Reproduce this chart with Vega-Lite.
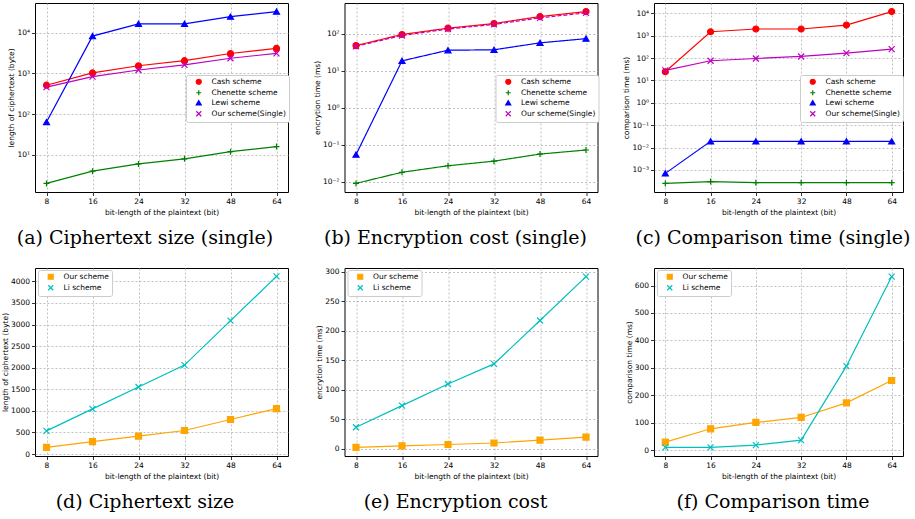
{
  "$schema": "https://vega.github.io/schema/vega-lite/v6.json",
  "background": "white",
  "padding": {"left": 0, "top": 2, "right": 0, "bottom": 0},
  "datasets": {
    "a": [
      {"bits": 8, "scheme": "Cash scheme", "v": 512}, {"bits": 16, "scheme": "Cash scheme", "v": 1024}, {"bits": 24, "scheme": "Cash scheme", "v": 1536}, {"bits": 32, "scheme": "Cash scheme", "v": 2048}, {"bits": 48, "scheme": "Cash scheme", "v": 3072}, {"bits": 64, "scheme": "Cash scheme", "v": 4096},
      {"bits": 8, "scheme": "Chenette scheme", "v": 2}, {"bits": 16, "scheme": "Chenette scheme", "v": 4}, {"bits": 24, "scheme": "Chenette scheme", "v": 6}, {"bits": 32, "scheme": "Chenette scheme", "v": 8}, {"bits": 48, "scheme": "Chenette scheme", "v": 12}, {"bits": 64, "scheme": "Chenette scheme", "v": 16},
      {"bits": 8, "scheme": "Lewi scheme", "v": 64}, {"bits": 16, "scheme": "Lewi scheme", "v": 8192}, {"bits": 24, "scheme": "Lewi scheme", "v": 16384}, {"bits": 32, "scheme": "Lewi scheme", "v": 16384}, {"bits": 48, "scheme": "Lewi scheme", "v": 24576}, {"bits": 64, "scheme": "Lewi scheme", "v": 32768},
      {"bits": 8, "scheme": "Our scheme(Single)", "v": 460}, {"bits": 16, "scheme": "Our scheme(Single)", "v": 830}, {"bits": 24, "scheme": "Our scheme(Single)", "v": 1210}, {"bits": 32, "scheme": "Our scheme(Single)", "v": 1610}, {"bits": 48, "scheme": "Our scheme(Single)", "v": 2350}, {"bits": 64, "scheme": "Our scheme(Single)", "v": 3100}
    ],
    "b": [
      {"bits": 8, "scheme": "Cash scheme", "v": 48}, {"bits": 16, "scheme": "Cash scheme", "v": 96}, {"bits": 24, "scheme": "Cash scheme", "v": 142}, {"bits": 32, "scheme": "Cash scheme", "v": 190}, {"bits": 48, "scheme": "Cash scheme", "v": 293}, {"bits": 64, "scheme": "Cash scheme", "v": 400},
      {"bits": 8, "scheme": "Chenette scheme", "v": 0.009}, {"bits": 16, "scheme": "Chenette scheme", "v": 0.018}, {"bits": 24, "scheme": "Chenette scheme", "v": 0.027}, {"bits": 32, "scheme": "Chenette scheme", "v": 0.036}, {"bits": 48, "scheme": "Chenette scheme", "v": 0.056}, {"bits": 64, "scheme": "Chenette scheme", "v": 0.072},
      {"bits": 8, "scheme": "Lewi scheme", "v": 0.054}, {"bits": 16, "scheme": "Lewi scheme", "v": 18.6}, {"bits": 24, "scheme": "Lewi scheme", "v": 36}, {"bits": 32, "scheme": "Lewi scheme", "v": 37}, {"bits": 48, "scheme": "Lewi scheme", "v": 57}, {"bits": 64, "scheme": "Lewi scheme", "v": 74},
      {"bits": 8, "scheme": "Our scheme(Single)", "v": 46}, {"bits": 16, "scheme": "Our scheme(Single)", "v": 90}, {"bits": 24, "scheme": "Our scheme(Single)", "v": 135}, {"bits": 32, "scheme": "Our scheme(Single)", "v": 180}, {"bits": 48, "scheme": "Our scheme(Single)", "v": 270}, {"bits": 64, "scheme": "Our scheme(Single)", "v": 370}
    ],
    "c": [
      {"bits": 8, "scheme": "Cash scheme", "v": 24.5}, {"bits": 16, "scheme": "Cash scheme", "v": 1500}, {"bits": 24, "scheme": "Cash scheme", "v": 2000}, {"bits": 32, "scheme": "Cash scheme", "v": 2000}, {"bits": 48, "scheme": "Cash scheme", "v": 3000}, {"bits": 64, "scheme": "Cash scheme", "v": 12000},
      {"bits": 8, "scheme": "Chenette scheme", "v": 0.00025}, {"bits": 16, "scheme": "Chenette scheme", "v": 0.0003}, {"bits": 24, "scheme": "Chenette scheme", "v": 0.00027}, {"bits": 32, "scheme": "Chenette scheme", "v": 0.00027}, {"bits": 48, "scheme": "Chenette scheme", "v": 0.00027}, {"bits": 64, "scheme": "Chenette scheme", "v": 0.00027},
      {"bits": 8, "scheme": "Lewi scheme", "v": 0.0007}, {"bits": 16, "scheme": "Lewi scheme", "v": 0.019}, {"bits": 24, "scheme": "Lewi scheme", "v": 0.019}, {"bits": 32, "scheme": "Lewi scheme", "v": 0.019}, {"bits": 48, "scheme": "Lewi scheme", "v": 0.019}, {"bits": 64, "scheme": "Lewi scheme", "v": 0.019},
      {"bits": 8, "scheme": "Our scheme(Single)", "v": 28}, {"bits": 16, "scheme": "Our scheme(Single)", "v": 76}, {"bits": 24, "scheme": "Our scheme(Single)", "v": 96}, {"bits": 32, "scheme": "Our scheme(Single)", "v": 118}, {"bits": 48, "scheme": "Our scheme(Single)", "v": 166}, {"bits": 64, "scheme": "Our scheme(Single)", "v": 250}
    ],
    "d": [
      {"bits": 8, "scheme": "Our scheme", "v": 155}, {"bits": 16, "scheme": "Our scheme", "v": 288}, {"bits": 24, "scheme": "Our scheme", "v": 415}, {"bits": 32, "scheme": "Our scheme", "v": 545}, {"bits": 48, "scheme": "Our scheme", "v": 800}, {"bits": 64, "scheme": "Our scheme", "v": 1052},
      {"bits": 8, "scheme": "Li scheme", "v": 536}, {"bits": 16, "scheme": "Li scheme", "v": 1045}, {"bits": 24, "scheme": "Li scheme", "v": 1553}, {"bits": 32, "scheme": "Li scheme", "v": 2060}, {"bits": 48, "scheme": "Li scheme", "v": 3090}, {"bits": 64, "scheme": "Li scheme", "v": 4115}
    ],
    "e": [
      {"bits": 8, "scheme": "Our scheme", "v": 2.5}, {"bits": 16, "scheme": "Our scheme", "v": 5}, {"bits": 24, "scheme": "Our scheme", "v": 7.5}, {"bits": 32, "scheme": "Our scheme", "v": 10}, {"bits": 48, "scheme": "Our scheme", "v": 15}, {"bits": 64, "scheme": "Our scheme", "v": 20},
      {"bits": 8, "scheme": "Li scheme", "v": 36.7}, {"bits": 16, "scheme": "Li scheme", "v": 73.4}, {"bits": 24, "scheme": "Li scheme", "v": 110}, {"bits": 32, "scheme": "Li scheme", "v": 144}, {"bits": 48, "scheme": "Li scheme", "v": 217.5}, {"bits": 64, "scheme": "Li scheme", "v": 292}
    ],
    "f": [
      {"bits": 8, "scheme": "Our scheme", "v": 29}, {"bits": 16, "scheme": "Our scheme", "v": 77.7}, {"bits": 24, "scheme": "Our scheme", "v": 100.8}, {"bits": 32, "scheme": "Our scheme", "v": 119}, {"bits": 48, "scheme": "Our scheme", "v": 172.4}, {"bits": 64, "scheme": "Our scheme", "v": 253.8},
      {"bits": 8, "scheme": "Li scheme", "v": 9.7}, {"bits": 16, "scheme": "Li scheme", "v": 9.7}, {"bits": 24, "scheme": "Li scheme", "v": 18.2}, {"bits": 32, "scheme": "Li scheme", "v": 36.4}, {"bits": 48, "scheme": "Li scheme", "v": 306}, {"bits": 64, "scheme": "Li scheme", "v": 632.7}
    ]
  },
  "columns": 3,
  "spacing": {"row": 76, "column": 56.5},
  "bounds": "flush",
  "resolve": {
    "scale": {"x": "independent", "y": "independent", "color": "independent", "shape": "independent", "fill": "independent"},
    "legend": {"color": "independent", "shape": "independent", "fill": "independent"}
  },
  "concat": [
    {
      "width": 253, "height": 189,
      "title": {"text": "(a) Ciphertext size (single)", "dx": -16.5},
      "data": {"name": "a"},
      "encoding": {
        "x": {"field": "bits", "type": "ordinal", "scale": {"type": "point", "padding": 0.25}, "axis": {"title": "bit-length of the plaintext (bit)"}},
        "y": {"field": "v", "type": "quantitative", "scale": {"type": "log", "domain": [1.231, 53200]}, "axis": {"title": "length of ciphertext (byte)", "values": [10, 100, 1000, 10000], "labelExpr": "'10' + (round(log(datum.value)/LN10) < 0 ? '⁻' : '') + ['⁰','¹','²','³','⁴'][abs(round(log(datum.value)/LN10))]"}},
        "color": {"field": "scheme", "type": "nominal", "scale": {"domain": ["Cash scheme", "Chenette scheme", "Lewi scheme", "Our scheme(Single)"], "range": ["#ff0000", "#008000", "#0000ff", "#bf00bf"]}, "legend": {"legendX": 151, "legendY": 72}}
      },
      "layer": [
        {"mark": {"type": "line", "strokeWidth": 1.2}},
        {"mark": {"type": "point", "filled": false, "size": 36, "strokeWidth": 1.2, "opacity": 1},
         "encoding": {
           "shape": {"field": "scheme", "type": "nominal", "scale": {"domain": ["Cash scheme", "Chenette scheme", "Lewi scheme", "Our scheme(Single)"], "range": ["circle", "M-1,0L1,0M0,-1L0,1", "triangle-up", "M-1,-1L1,1M-1,1L1,-1"]}, "legend": {"legendX": 151, "legendY": 72}},
           "fill": {"field": "scheme", "type": "nominal", "scale": {"domain": ["Cash scheme", "Chenette scheme", "Lewi scheme", "Our scheme(Single)"], "range": ["#ff0000", "transparent", "#0000ff", "transparent"]}, "legend": {"legendX": 151, "legendY": 72}}
         }}
      ]
    },
    {
      "width": 253, "height": 189,
      "title": {"text": "(b) Encryption cost (single)", "dx": -15.5},
      "data": {"name": "b"},
      "encoding": {
        "x": {"field": "bits", "type": "ordinal", "scale": {"type": "point", "padding": 0.25}, "axis": {"title": "bit-length of the plaintext (bit)"}},
        "y": {"field": "v", "type": "quantitative", "scale": {"type": "log", "domain": [0.00527, 682]}, "axis": {"title": "encrytion time (ms)", "values": [0.01, 0.1, 1, 10, 100], "labelExpr": "'10' + (round(log(datum.value)/LN10) < 0 ? '⁻' : '') + ['⁰','¹','²','³','⁴'][abs(round(log(datum.value)/LN10))]"}},
        "color": {"field": "scheme", "type": "nominal", "scale": {"domain": ["Cash scheme", "Chenette scheme", "Lewi scheme", "Our scheme(Single)"], "range": ["#ff0000", "#008000", "#0000ff", "#bf00bf"]}, "legend": {"legendX": 151, "legendY": 72}}
      },
      "layer": [
        {"mark": {"type": "line", "strokeWidth": 1.2},
         "encoding": {"strokeDash": {"condition": {"test": "datum.scheme == 'Our scheme(Single)'", "value": [4, 2]}, "value": [1, 0]}}},
        {"mark": {"type": "point", "filled": false, "size": 36, "strokeWidth": 1.2, "opacity": 1},
         "encoding": {
           "shape": {"field": "scheme", "type": "nominal", "scale": {"domain": ["Cash scheme", "Chenette scheme", "Lewi scheme", "Our scheme(Single)"], "range": ["circle", "M-1,0L1,0M0,-1L0,1", "triangle-up", "M-1,-1L1,1M-1,1L1,-1"]}, "legend": {"legendX": 151, "legendY": 72}},
           "fill": {"field": "scheme", "type": "nominal", "scale": {"domain": ["Cash scheme", "Chenette scheme", "Lewi scheme", "Our scheme(Single)"], "range": ["#ff0000", "transparent", "#0000ff", "transparent"]}, "legend": {"legendX": 151, "legendY": 72}}
         }}
      ]
    },
    {
      "width": 249, "height": 189,
      "title": {"text": "(c) Comparison time (single)", "dx": -5.5},
      "data": {"name": "c"},
      "encoding": {
        "x": {"field": "bits", "type": "ordinal", "scale": {"type": "point", "padding": 0.25}, "axis": {"title": "bit-length of the plaintext (bit)"}},
        "y": {"field": "v", "type": "quantitative", "scale": {"type": "log", "domain": [0.000103, 29000]}, "axis": {"title": "comparison time (ms)", "values": [0.001, 0.01, 0.1, 1, 10, 100, 1000, 10000], "labelExpr": "'10' + (round(log(datum.value)/LN10) < 0 ? '⁻' : '') + ['⁰','¹','²','³','⁴'][abs(round(log(datum.value)/LN10))]"}},
        "color": {"field": "scheme", "type": "nominal", "scale": {"domain": ["Cash scheme", "Chenette scheme", "Lewi scheme", "Our scheme(Single)"], "range": ["#ff0000", "#008000", "#0000ff", "#bf00bf"]}, "legend": {"legendX": 146, "legendY": 72}}
      },
      "layer": [
        {"mark": {"type": "line", "strokeWidth": 1.2}},
        {"mark": {"type": "point", "filled": false, "size": 36, "strokeWidth": 1.2, "opacity": 1},
         "encoding": {
           "shape": {"field": "scheme", "type": "nominal", "scale": {"domain": ["Cash scheme", "Chenette scheme", "Lewi scheme", "Our scheme(Single)"], "range": ["circle", "M-1,0L1,0M0,-1L0,1", "triangle-up", "M-1,-1L1,1M-1,1L1,-1"]}, "legend": {"legendX": 146, "legendY": 72}},
           "fill": {"field": "scheme", "type": "nominal", "scale": {"domain": ["Cash scheme", "Chenette scheme", "Lewi scheme", "Our scheme(Single)"], "range": ["#ff0000", "transparent", "#0000ff", "transparent"]}, "legend": {"legendX": 146, "legendY": 72}}
         }}
      ]
    },
    {
      "width": 253, "height": 188,
      "title": {"text": "(d) Ciphertext size", "dx": -16.5},
      "data": {"name": "d"},
      "encoding": {
        "x": {"field": "bits", "type": "ordinal", "scale": {"type": "point", "padding": 0.25}, "axis": {"title": "bit-length of the plaintext (bit)"}},
        "y": {"field": "v", "type": "quantitative", "scale": {"domain": [-46, 4310], "nice": false, "zero": false}, "axis": {"title": "length of ciphertext (byte)", "format": "d", "values": [0, 500, 1000, 1500, 2000, 2500, 3000, 3500, 4000]}},
        "color": {"field": "scheme", "type": "nominal", "scale": {"domain": ["Our scheme", "Li scheme"], "range": ["#ffa500", "#00bfbf"]}, "legend": {"legendX": 3, "legendY": 2}}
      },
      "layer": [
        {"mark": {"type": "line", "strokeWidth": 1.2}},
        {"mark": {"type": "point", "filled": false, "size": 36, "strokeWidth": 1.2, "opacity": 1},
         "encoding": {
           "shape": {"field": "scheme", "type": "nominal", "scale": {"domain": ["Our scheme", "Li scheme"], "range": ["square", "M-1,-1L1,1M-1,1L1,-1"]}, "legend": {"legendX": 3, "legendY": 2}},
           "fill": {"field": "scheme", "type": "nominal", "scale": {"domain": ["Our scheme", "Li scheme"], "range": ["#ffa500", "transparent"]}, "legend": {"legendX": 3, "legendY": 2}}
         }}
      ]
    },
    {
      "width": 253, "height": 188,
      "title": {"text": "(e) Encryption cost", "dx": -15.5},
      "data": {"name": "e"},
      "encoding": {
        "x": {"field": "bits", "type": "ordinal", "scale": {"type": "point", "padding": 0.25}, "axis": {"title": "bit-length of the plaintext (bit)"}},
        "y": {"field": "v", "type": "quantitative", "scale": {"domain": [-12, 306.5], "nice": false, "zero": false}, "axis": {"title": "encrytion time (ms)", "format": "d", "values": [0, 50, 100, 150, 200, 250, 300]}},
        "color": {"field": "scheme", "type": "nominal", "scale": {"domain": ["Our scheme", "Li scheme"], "range": ["#ffa500", "#00bfbf"]}, "legend": {"legendX": 3, "legendY": 2}}
      },
      "layer": [
        {"mark": {"type": "line", "strokeWidth": 1.2}},
        {"mark": {"type": "point", "filled": false, "size": 36, "strokeWidth": 1.2, "opacity": 1},
         "encoding": {
           "shape": {"field": "scheme", "type": "nominal", "scale": {"domain": ["Our scheme", "Li scheme"], "range": ["square", "M-1,-1L1,1M-1,1L1,-1"]}, "legend": {"legendX": 3, "legendY": 2}},
           "fill": {"field": "scheme", "type": "nominal", "scale": {"domain": ["Our scheme", "Li scheme"], "range": ["#ffa500", "transparent"]}, "legend": {"legendX": 3, "legendY": 2}}
         }}
      ]
    },
    {
      "width": 249, "height": 188,
      "title": {"text": "(f) Comparison time", "dx": -5.5},
      "data": {"name": "f"},
      "encoding": {
        "x": {"field": "bits", "type": "ordinal", "scale": {"type": "point", "padding": 0.25}, "axis": {"title": "bit-length of the plaintext (bit)"}},
        "y": {"field": "v", "type": "quantitative", "scale": {"domain": [-21.5, 664], "nice": false, "zero": false}, "axis": {"title": "comparison time (ms)", "format": "d", "values": [0, 100, 200, 300, 400, 500, 600]}},
        "color": {"field": "scheme", "type": "nominal", "scale": {"domain": ["Our scheme", "Li scheme"], "range": ["#ffa500", "#00bfbf"]}, "legend": {"legendX": 3, "legendY": 2}}
      },
      "layer": [
        {"mark": {"type": "line", "strokeWidth": 1.2}},
        {"mark": {"type": "point", "filled": false, "size": 36, "strokeWidth": 1.2, "opacity": 1},
         "encoding": {
           "shape": {"field": "scheme", "type": "nominal", "scale": {"domain": ["Our scheme", "Li scheme"], "range": ["square", "M-1,-1L1,1M-1,1L1,-1"]}, "legend": {"legendX": 3, "legendY": 2}},
           "fill": {"field": "scheme", "type": "nominal", "scale": {"domain": ["Our scheme", "Li scheme"], "range": ["#ffa500", "transparent"]}, "legend": {"legendX": 3, "legendY": 2}}
         }}
      ]
    }
  ],
  "config": {
    "view": {"stroke": "#000000", "strokeWidth": 1},
    "axis": {"grid": true, "gridColor": "#b0b0b0", "gridDash": [2, 2], "gridWidth": 0.8, "domain": false, "tickColor": "#000000", "tickSize": 3.5, "tickWidth": 0.8, "labelFont": "DejaVu Sans", "labelFontSize": 7.5, "labelColor": "#000000", "labelPadding": 2, "titleFont": "DejaVu Sans", "titleFontSize": 7.5, "titleFontWeight": "normal", "titleColor": "#000000", "titlePadding": 1},
    "axisX": {"labelAngle": 0, "titlePadding": 3},
    "legend": {"orient": "none", "direction": "vertical", "title": null, "fillColor": "#ffffff", "strokeColor": "#cccccc", "cornerRadius": 2, "padding": 3, "labelFont": "DejaVu Sans", "labelFontSize": 7.5, "labelColor": "#000000", "symbolSize": 25, "symbolStrokeWidth": 1.2, "symbolOffset": 6, "rowPadding": 0, "labelOffset": 9},
    "title": {"font": "DejaVu Serif", "fontSize": 19, "fontWeight": "normal", "color": "#000000", "orient": "bottom", "anchor": "middle", "frame": "group", "baseline": "alphabetic", "offset": 13}
  }
}
